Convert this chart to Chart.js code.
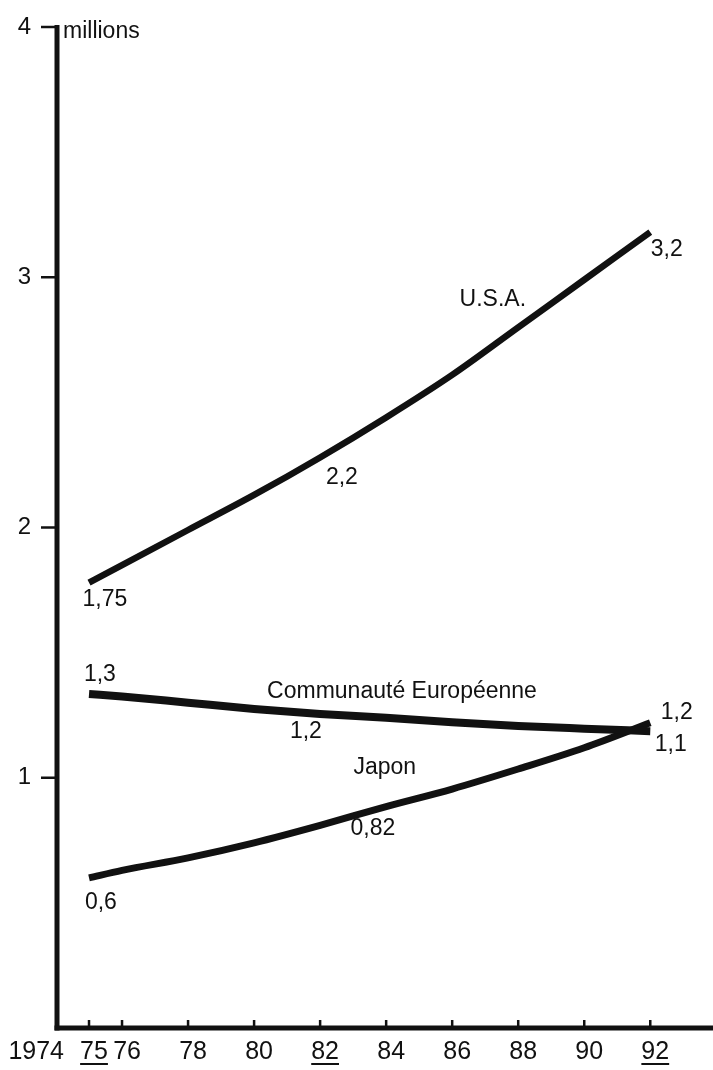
<!DOCTYPE html>
<html lang="fr">
<head>
<meta charset="utf-8">
<title>Millions</title>
<script src="https://cdn.jsdelivr.net/npm/chart.js@4"></script>
<style>
    html, body { margin: 0; padding: 0; background: #fff; }
    #wrap { width: 713px; height: 1070px; }
</style>
</head>
<body>
<div id="wrap"><canvas id="graphique" width="713" height="1070"></canvas></div>
<script>
'use strict';

// Données (millions)
const annees = [1975, 1976, 1978, 1980, 1982, 1984, 1986, 1988, 1990, 1992];
const usa = [1.78, 1.85, 1.99, 2.13, 2.28, 2.44, 2.61, 2.80, 2.99, 3.18];
const communaute = [1.335, 1.325, 1.30, 1.275, 1.255, 1.24, 1.222, 1.207, 1.196, 1.186];
const japon = [0.60, 0.63, 0.68, 0.74, 0.81, 0.885, 0.955, 1.035, 1.12, 1.22];

const ticksX = [1975, 1976, 1978, 1980, 1982, 1984, 1986, 1988, 1990, 1992];
const labelsX = ['75', '76', '78', '80', '82', '84', '86', '88', '90', '92'];
const soulignes = ['75', '82', '92'];
const ticksY = [1, 2, 3, 4];

// Textes posés sur le graphique (année, valeur)
const notes = [
    { t: '1,75', x: 1975.48, y: 1.71 },
    { t: '1,3', x: 1975.33, y: 1.41 },
    { t: '0,6', x: 1975.36, y: 0.50 },
    { t: 'U.S.A.', x: 1987.23, y: 2.91 },
    { t: '2,2', x: 1982.66, y: 2.20 },
    { t: '3,2', x: 1992.5, y: 3.11 },
    { t: 'Communauté Européenne', x: 1984.48, y: 1.343 },
    { t: '1,2', x: 1981.57, y: 1.183 },
    { t: '1,2', x: 1992.8, y: 1.259 },
    { t: '1,1', x: 1992.62, y: 1.131 },
    { t: 'Japon', x: 1983.96, y: 1.039 },
    { t: '0,82', x: 1983.6, y: 0.795 }
];

const POLICE = '"Liberation Sans", Arial, sans-serif';

function points(valeurs) {
    return annees.map((a, i) => ({ x: a, y: valeurs[i] }));
}

function serie(valeurs, epaisseur) {
    return {
        data: points(valeurs),
        borderColor: '#111',
        borderWidth: epaisseur,
        borderCapStyle: 'butt',
        pointRadius: 0,
        cubicInterpolationMode: 'monotone',
        fill: false
    };
}

// Axes, graduations et textes dessinés à la main
const axesMain = {
    id: 'axesMain',
    afterDatasetsDraw(chart) {
        const ctx = chart.ctx;
        const sx = chart.scales.x;
        const sy = chart.scales.y;
        const x0 = sx.getPixelForValue(1974) + 1;
        const y0 = sy.getPixelForValue(0);

        ctx.save();
        ctx.strokeStyle = '#111';
        ctx.fillStyle = '#111';

        // axe vertical
        ctx.lineWidth = 5;
        ctx.beginPath();
        ctx.moveTo(x0, sy.getPixelForValue(4) - 2);
        ctx.lineTo(x0, y0 + 2.5);
        ctx.stroke();

        // axe horizontal
        ctx.beginPath();
        ctx.moveTo(x0 - 2.5, y0);
        ctx.lineTo(chart.width, y0);
        ctx.stroke();

        // graduations y
        ctx.lineWidth = 2.5;
        ctx.font = '24px ' + POLICE;
        ctx.textAlign = 'right';
        ctx.textBaseline = 'middle';
        ticksY.forEach(v => {
            const py = sy.getPixelForValue(v);
            ctx.beginPath();
            ctx.moveTo(x0 - 16, py);
            ctx.lineTo(x0, py);
            ctx.stroke();
            ctx.fillText(String(v), x0 - 26, py);
        });

        // graduations x (vers le haut)
        ctx.font = '25px ' + POLICE;
        ctx.textAlign = 'center';
        ctx.textBaseline = 'middle';
        ticksX.forEach((a, i) => {
            const px = sx.getPixelForValue(a);
            ctx.lineWidth = 2.5;
            ctx.beginPath();
            ctx.moveTo(px, y0);
            ctx.lineTo(px, y0 - 8);
            ctx.stroke();
            const lx = px + 5;
            ctx.fillText(labelsX[i], lx, y0 + 24);
            if (soulignes.includes(labelsX[i])) {
                const w = ctx.measureText(labelsX[i]).width;
                ctx.lineWidth = 2;
                ctx.beginPath();
                ctx.moveTo(lx - w / 2, y0 + 36);
                ctx.lineTo(lx + w / 2, y0 + 36);
                ctx.stroke();
            }
        });
        ctx.textAlign = 'right';
        ctx.fillText('1974', x0 + 7, y0 + 24);

        // unité
        ctx.font = '23px ' + POLICE;
        ctx.textAlign = 'left';
        ctx.fillText('millions', x0 + 6, sy.getPixelForValue(4) + 5);

        // étiquettes
        ctx.textAlign = 'center';
        notes.forEach(n => {
            ctx.fillText(n.t, sx.getPixelForValue(n.x), sy.getPixelForValue(n.y));
        });
        ctx.restore();
    }
};

document.addEventListener('DOMContentLoaded', () => {
    new Chart(document.getElementById('graphique'), {
        type: 'line',
        data: {
            datasets: [
                serie(usa, 6.5),
                serie(communaute, 8),
                serie(japon, 7)
            ]
        },
        options: {
            responsive: false,
            animation: false,
            layout: { padding: { left: 56, top: 27, right: 0, bottom: 42 } },
            plugins: { legend: { display: false }, tooltip: { enabled: false } },
            scales: {
                x: { type: 'linear', min: 1974, max: 1993.9, display: false },
                y: { min: 0, max: 4, display: false }
            }
        },
        plugins: [axesMain]
    });
});
</script>
</body>
</html>
